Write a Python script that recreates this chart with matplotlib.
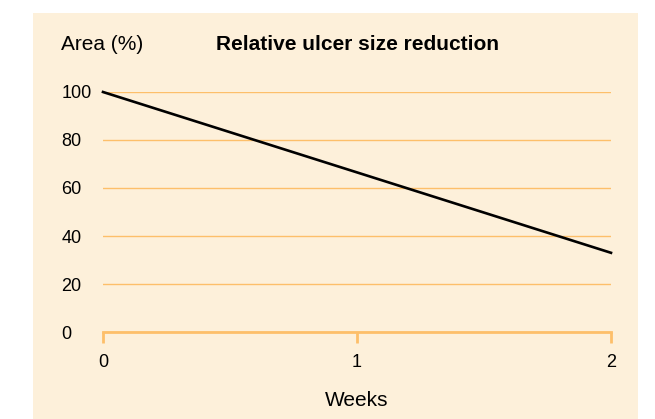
import matplotlib

matplotlib.use("Agg")
import matplotlib.pyplot as plt
from matplotlib.patches import Rectangle

# data
weeks = [0, 1, 2]
area_pct = [100, 66.5, 33]
y_ticks = [0, 20, 40, 60, 80, 100]
x_ticks = [0, 1, 2]

BG = "#fdf0da"
ORANGE = "#fdbf6a"
W, H = 655, 419

plt.rcParams["font.family"] = ["Liberation Sans", "DejaVu Sans"]

fig = plt.figure(figsize=(W / 100, H / 100), dpi=100)
fig.patch.set_facecolor("white")
fig.patches.append(
    Rectangle((33 / W, 0), (638 - 33) / W, 1 - 13 / H,
              transform=fig.transFigure, facecolor=BG, edgecolor="none", zorder=-1)
)

ax = fig.add_axes([103 / W, 1 - 332 / H, (611 - 103) / W, (332 - 92) / H])
ax.set_zorder(2)
ax.patch.set_alpha(0)

ax.plot(weeks, area_pct, color="black", lw=1.9, clip_on=False, zorder=3)

ax.set_xlim(0, 2)
ax.set_ylim(0, 100)
ax.set_xticks(x_ticks)
ax.set_yticks(y_ticks)
ax.set_xticklabels([str(v) for v in x_ticks], fontsize=13)
ax.set_yticklabels([str(v) for v in y_ticks], fontsize=13, ha="left")

for s in ["top", "right", "left"]:
    ax.spines[s].set_visible(False)
ax.spines["bottom"].set_color(ORANGE)
ax.spines["bottom"].set_linewidth(2)
ax.tick_params(axis="x", direction="out", length=8, width=2, color=ORANGE, pad=8)
ax.tick_params(axis="y", length=0, pad=30)

ax.yaxis.grid(True, color=ORANGE, lw=1)
ax.set_axisbelow(True)

fig.text(61 / W, 1 - 45 / H, "Area (%)", fontsize=15, ha="left", va="center")
fig.text(357 / W, 1 - 45 / H, "Relative ulcer size reduction", fontsize=15,
         fontweight="bold", ha="center", va="center")
fig.text(357 / W, 1 - 400 / H, "Weeks", fontsize=15, ha="center", va="center")

fig.savefig("out.png", dpi=100, facecolor="white")
